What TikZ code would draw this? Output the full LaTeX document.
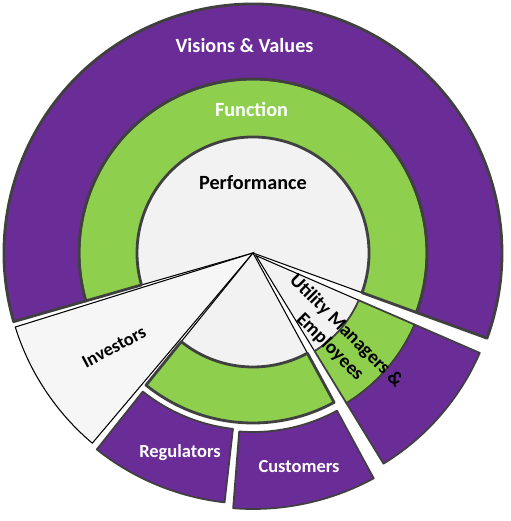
\documentclass[tikz,border=0pt]{standalone}
\usepackage{fontspec}
\setmainfont{Carlito}
\usetikzlibrary{positioning}
\definecolor{vpurple}{RGB}{106,44,150}
\definecolor{fgreen}{RGB}{142,207,78}
\definecolor{rim}{RGB}{64,64,64}
\definecolor{core}{RGB}{242,242,242}

\begin{document}
\begin{tikzpicture}[scale=0.02,node distance=2cm,on grid,
    inner/.style={fill=core,draw=black,line width=0.6pt},
    band/.style={draw=rim,line width=1.6pt,line join=round},
    pband/.style={band,fill=vpurple},
    gband/.style={band,fill=fgreen},
    wlabel/.style={text=white,font=\bfseries\fontsize{11.5}{13}\selectfont},
    blabel/.style={text=black,font=\bfseries\fontsize{11.5}{13}\selectfont}]
   \useasboundingbox (-253,-268) rectangle (257,253);
   % main piece
   \path[inner] (0,0) -- (-20:116) arc[start angle=-20,end angle=196,radius=116] -- cycle;
   \path[gband] (-20:116) arc[start angle=-20,end angle=196,radius=116]
      -- (196:174) arc[start angle=196,end angle=-20,radius=174] -- cycle;
   \path[pband] (-20:174) arc[start angle=-20,end angle=196,radius=174]
      -- (196:249) arc[start angle=196,end angle=-20,radius=249] -- cycle;
   % investors
   \path[inner,fill=gray!7] (0,0) -- (197.3:249) arc[start angle=197.3,end angle=229.8,radius=249] -- cycle;
   % lower piece
   \path[inner] (0,0) -- (231:114) arc[start angle=231,end angle=298.5,radius=114] -- cycle;
   \path[gband] (231:114) arc[start angle=231,end angle=298.5,radius=114]
      -- (298.5:170) arc[start angle=298.5,end angle=231,radius=170] -- cycle;
   \path[pband,line width=1pt] (231.5:177) arc[start angle=231.5,end angle=263.5,radius=177]
      -- (263.5:251) arc[start angle=263.5,end angle=231.5,radius=251] -- cycle;
   \path[pband,line width=1pt,shift={(0,-3)}] (265.5:176) arc[start angle=265.5,end angle=298.5,radius=176]
      -- (298.5:253) arc[start angle=298.5,end angle=265.5,radius=253] -- cycle;
   % utility piece, pulled out
   \begin{scope}[shift={(319:4)}]
   \path[inner] (0,0) -- (301.5:112) arc[start angle=301.5,end angle=336.5,radius=112] -- cycle;
   \path[gband,line width=1pt] (301.5:112) arc[start angle=301.5,end angle=336.5,radius=112]
      -- (336.5:173) arc[start angle=336.5,end angle=301.5,radius=173] -- cycle;
   \path[pband,line width=1pt] (301.5:173) arc[start angle=301.5,end angle=336.5,radius=173]
      -- (336.5:244) arc[start angle=336.5,end angle=301.5,radius=244] -- cycle;
   \end{scope}
   % labels
   \node[wlabel] (visions) at (-8.5,208) {Visions \& Values};
   \node[wlabel] (function) [below=1.3cm of visions,xshift=4pt] {Function};
   \node[blabel] (performance) at (0,70) {Performance};
   \node[blabel,font=\bfseries\fontsize{10.5}{12}\selectfont,rotate=28] (investors) at (-139,-94) {Investors};
   \node[wlabel,font=\bfseries\fontsize{10.5}{12}\selectfont] (regulators) at (-73,-200) {Regulators};
   \node[wlabel,font=\bfseries\fontsize{10.5}{12}\selectfont] (customers) at (46,-214) {Customers};
   \node[blabel,font=\bfseries\fontsize{11}{13}\selectfont,rotate=-45,align=center] (utility) at (85,-86)
      {Utility Managers \&\\Employees};
\end{tikzpicture}
\end{document}
